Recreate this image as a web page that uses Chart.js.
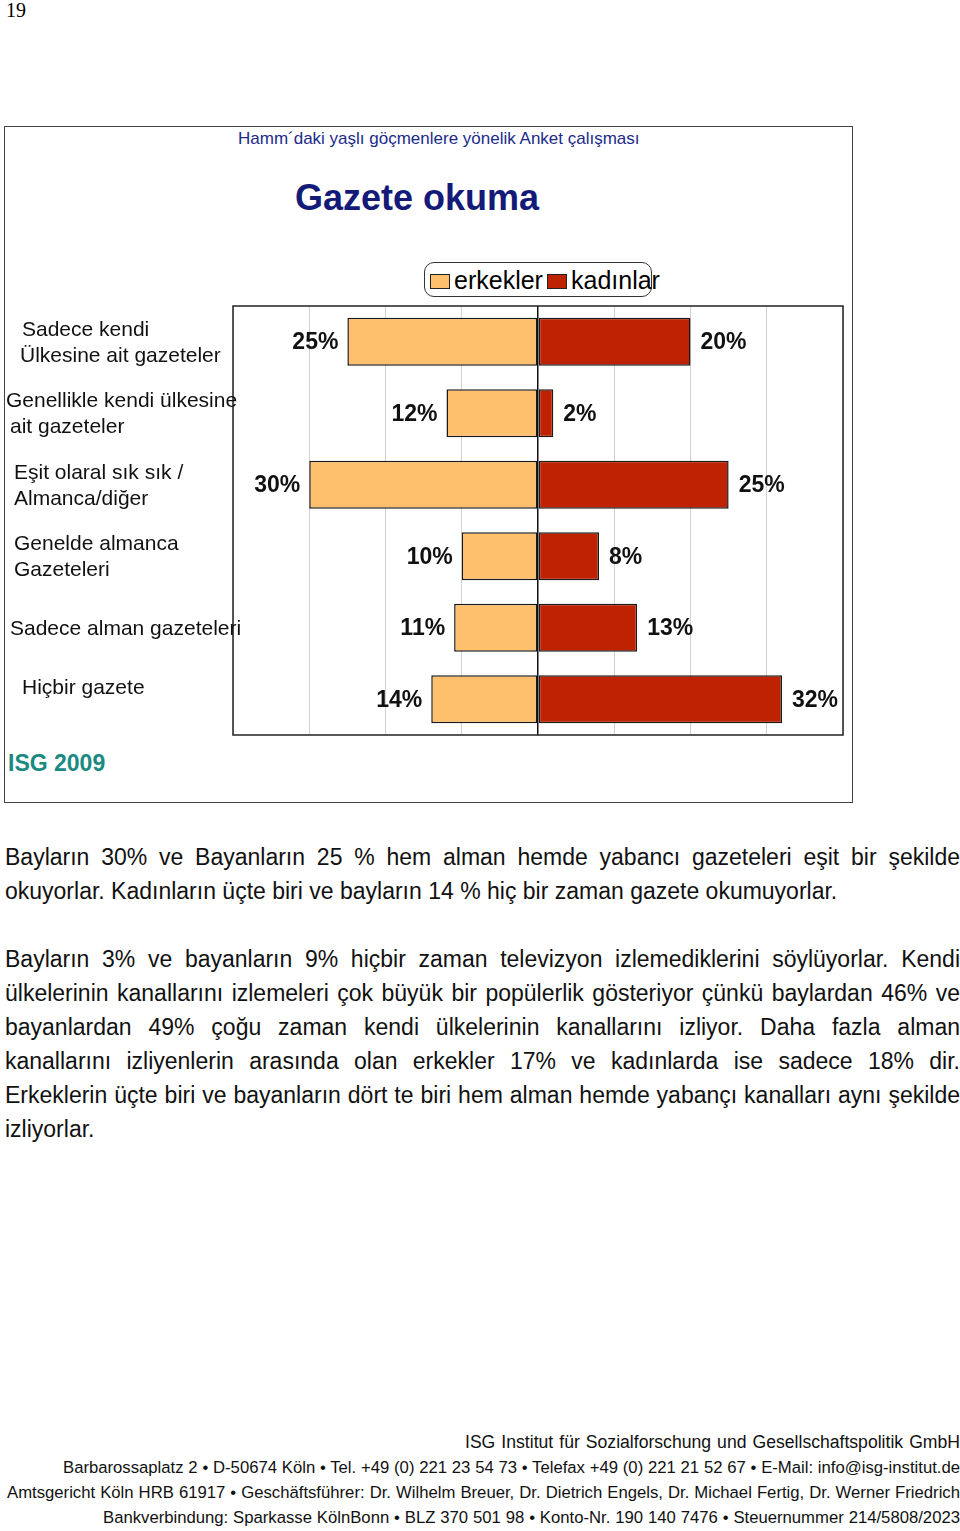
<!DOCTYPE html>
<html>
<head>
<meta charset="utf-8">
<script src="https://cdn.jsdelivr.net/npm/chart.js@4/dist/chart.umd.min.js"></script>
<style>
  body { margin: 0; background: #fff; font-family: "Liberation Sans", Arial, sans-serif; }
  #page { position: relative; width: 960px; height: 1531px; overflow: hidden; }
  .abs { position: absolute; white-space: nowrap; }
  #pageNo { left: 6px; top: 0; font: 20px/20px "Liberation Serif", serif; }
  #frame { left: 4px; top: 126px; width: 847px; height: 675px; border: 1.5px solid #444; }
  #subtitle { left: 238px; top: 130px; font-size: 17px; line-height: 18px; color: #1c2a8a; }
  #title { left: 295px; top: 180px; font-size: 36px; line-height: 36px; font-weight: bold; color: #131a78; }
  #legend { left: 424px; top: 262px; width: 226px; height: 33px; border: 1.5px solid #333; border-radius: 10px; }
  .leg { position: absolute; top: 0; font-size: 25px; line-height: 35px; }
  .sw { position: absolute; top: 11px; width: 18px; height: 13px; border: 1px solid #222; }
  #chartBox { left: 0; top: 296px; width: 860px; height: 450px; }
  #isg { left: 8px; top: 752px; font-size: 23px; line-height: 23px; font-weight: bold; color: #1a8a80; }
  .para { left: 5px; width: 955px; font-size: 23px; line-height: 34px; color: #111; }
  .para div, .fl { text-align: justify; text-align-last: justify; white-space: nowrap; }
  .para div.last { text-align-last: left; }
  .fl { position: absolute; right: 0; height: 25px; line-height: 25px; font-size: 16.7px; color: #111; }
</style>
</head>
<body>
<div id="page">
  <div id="pageNo" class="abs">19</div>
  <div id="frame" class="abs"></div>
  <div id="subtitle" class="abs">Hamm´daki yaşlı göçmenlere yönelik Anket çalışması</div>
  <div id="title" class="abs">Gazete okuma</div>
  <div id="legend" class="abs">
    <span class="sw" style="left:5px; background:#FFC06E;"></span>
    <span class="leg" style="left:29px;">erkekler</span>
    <span class="sw" style="left:122px; background:#BF2200;"></span>
    <span class="leg" style="left:146px;">kadınlar</span>
  </div>
  <div id="chartBox" class="abs"><canvas id="newsChart"></canvas></div>
  <div id="isg" class="abs">ISG 2009</div>

  <div class="abs para" style="top:840px;">
    <div>Bayların 30% ve Bayanların 25 % hem alman hemde yabancı gazeteleri eşit bir şekilde</div>
    <div class="last">okuyorlar. Kadınların üçte biri ve bayların 14 % hiç bir zaman gazete okumuyorlar.</div>
  </div>
  <div class="abs para" style="top:942px;">
    <div>Bayların 3% ve bayanların 9% hiçbir zaman televizyon izlemediklerini söylüyorlar. Kendi</div>
    <div>ülkelerinin kanallarını izlemeleri çok büyük bir popülerlik gösteriyor çünkü baylardan 46% ve</div>
    <div>bayanlardan 49% çoğu zaman kendi ülkelerinin kanallarını izliyor. Daha fazla alman</div>
    <div>kanallarını izliyenlerin arasında olan erkekler 17% ve kadınlarda ise sadece 18% dir.</div>
    <div>Erkeklerin üçte biri ve bayanların dört te biri hem alman hemde yabançı kanalları aynı şekilde</div>
    <div class="last">izliyorlar.</div>
  </div>

  <div class="fl" style="top:1430px; width:495px; font-size:17.6px;">ISG Institut für Sozialforschung und Gesellschaftspolitik GmbH</div>
  <div class="fl" style="top:1455px; width:897px;">Barbarossaplatz 2 • D-50674 Köln • Tel. +49 (0) 221 23 54 73 • Telefax +49 (0) 221 21 52 67 • E-Mail: info@isg-institut.de</div>
  <div class="fl" style="top:1480px; width:953px;">Amtsgericht Köln HRB 61917 • Geschäftsführer: Dr. Wilhelm Breuer, Dr. Dietrich Engels, Dr. Michael Fertig, Dr. Werner Friedrich</div>
  <div class="fl" style="top:1505px; width:857px;">Bankverbindung: Sparkasse KölnBonn • BLZ 370 501 98 • Konto-Nr. 190 140 7476 • Steuernummer 214/5808/2023</div>
</div>

<script>
// kategoriler (satır satır)
const categories = [
  ["Sadece kendi", "Ülkesine ait gazeteler"],
  ["Genellikle kendi ülkesine", "ait gazeteler"],
  ["Eşit olaral sık sık /", "Almanca/diğer"],
  ["Genelde almanca", "Gazeteleri"],
  ["Sadece alman gazeteleri"],
  ["Hiçbir gazete"]
];
const erkekler = [25, 12, 30, 10, 11, 14];
const kadinlar = [20, 2, 25, 8, 13, 32];
const axisTicks = [-40, -30, -20, -10, 0, 10, 20, 30, 40];

// etiket konumları (sadece görünüm)
const labelX = [[22, 20], [6, 10], [14, 14], [14, 14], [10], [22]];
const labelShiftY = [0, 0, 0, 0, 0, -12];

const FONT = '"Liberation Sans", Arial, sans-serif';

// çerçeve + kategori + değer etiketleri
const decorPlugin = {
  id: "decor",
  afterDatasetsDraw(chart) {
    const ctx = chart.ctx;
    const area = chart.chartArea;
    const yScale = chart.scales.y;

    ctx.save();
    ctx.strokeStyle = "#222";
    ctx.lineWidth = 1.5;
    ctx.strokeRect(area.left, area.top, area.right - area.left, area.bottom - area.top);

    // değerler
    ctx.font = "bold 23px " + FONT;
    ctx.fillStyle = "#111";
    ctx.textBaseline = "middle";
    chart.data.datasets.forEach((ds, di) => {
      chart.getDatasetMeta(di).data.forEach((bar, i) => {
        const txt = Math.abs(ds.data[i]) + "%";
        if (di === 0) {
          ctx.textAlign = "right";
          ctx.fillText(txt, bar.x - 9, bar.y + 1);
        } else {
          ctx.textAlign = "left";
          ctx.fillText(txt, bar.x + 10, bar.y + 1);
        }
      });
    });

    // kategoriler
    ctx.font = "21px " + FONT;
    ctx.textAlign = "left";
    categories.forEach((lines, i) => {
      const cy = yScale.getPixelForValue(i) + labelShiftY[i];
      const lh = 26;
      const y0 = cy - (lines.length - 1) * lh / 2;
      lines.forEach((line, j) => {
        ctx.fillText(line, labelX[i][j], y0 + j * lh + 1);
      });
    });
    ctx.restore();
  }
};

new Chart(document.getElementById("newsChart"), {
  type: "bar",
  data: {
    labels: categories.map((c) => c.join(" ")),
    datasets: [
      {
        label: "erkekler",
        data: erkekler.map((v) => -v),
        backgroundColor: "#FFC06E",
        borderColor: "#1a1a1a",
        borderWidth: 1.5,
        borderSkipped: false,
        barPercentage: 0.67,
        categoryPercentage: 1
      },
      {
        label: "kadınlar",
        data: kadinlar,
        backgroundColor: "#BF2200",
        borderColor: "#1a1a1a",
        borderWidth: 1.5,
        borderSkipped: false,
        barPercentage: 0.67,
        categoryPercentage: 1
      }
    ]
  },
  options: {
    indexAxis: "y",
    responsive: true,
    maintainAspectRatio: false,
    animation: false,
    layout: { padding: { left: 0, top: 10, right: 17, bottom: 11 } },
    scales: {
      x: {
        min: axisTicks[0],
        max: axisTicks[axisTicks.length - 1],
        stacked: true,
        afterBuildTicks: (scale) => {
          scale.ticks = axisTicks.map((v) => ({ value: v }));
        },
        ticks: { display: false },
        border: { display: false },
        grid: {
          drawTicks: false,
          color: (c) => (c.tick && c.tick.value === 0 ? "#111" : "#d2d2d2"),
          lineWidth: (c) => (c.tick && c.tick.value === 0 ? 1.5 : 1)
        }
      },
      y: {
        stacked: true,
        ticks: { display: false },
        grid: { display: false },
        border: { display: false },
        afterFit: (scale) => { scale.width = 233; }
      }
    },
    plugins: {
      legend: { display: false },
      tooltip: { enabled: false }
    }
  },
  plugins: [decorPlugin]
});
</script>
</body>
</html>
